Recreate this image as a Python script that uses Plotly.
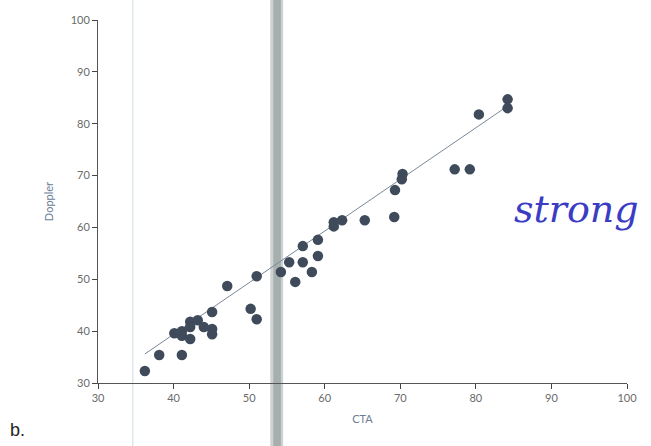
import plotly.graph_objects as go

cta = [36.2, 38.1, 41.1, 40.1, 41.1, 41.1, 42.2, 42.2, 42.2, 43.2, 44.0, 45.1, 45.1, 45.1,
       47.1, 50.2, 51.0, 51.0, 54.2, 55.3, 56.1, 57.1, 57.1, 58.3, 59.1, 59.1, 61.2, 61.2,
       62.3, 65.3, 69.2, 69.3, 70.2, 70.3, 77.2, 79.2, 80.4, 84.2, 84.2]
doppler = [32.3, 35.4, 35.4, 39.6, 40.0, 39.1, 41.8, 40.8, 38.5, 42.1, 40.8, 43.7, 40.4, 39.4,
           48.7, 44.3, 42.3, 50.6, 51.4, 53.3, 49.5, 53.3, 56.4, 51.4, 54.5, 57.6, 61.0, 60.2,
           61.4, 61.4, 62.0, 67.2, 69.3, 70.3, 71.2, 71.2, 81.8, 84.7, 83.0]
fit_cta = [36.2, 84.2]
fit_doppler = [35.6, 83.4]
ticks = [30, 40, 50, 60, 70, 80, 90, 100]

fig = go.Figure()
fig.add_trace(go.Scatter(x=fit_cta, y=fit_doppler, mode="lines",
                         line=dict(color="#7a8796", width=1), showlegend=False, hoverinfo="skip"))
fig.add_trace(go.Scatter(x=cta, y=doppler, mode="markers",
                         marker=dict(size=10.5, color="#3f4b5b", line=dict(width=0)),
                         showlegend=False))

# scan artefacts: faint line and grey band
fig.add_shape(type="rect", xref="x", yref="paper", x0=52.8, x1=54.5, y0=-0.2, y1=1.06,
              fillcolor="rgba(170,180,180,0.6)", line=dict(width=0), layer="below")
fig.add_shape(type="rect", xref="x", yref="paper", x0=53.2, x1=54.2, y0=-0.2, y1=1.06,
              fillcolor="rgba(140,150,150,0.6)", line=dict(width=0), layer="below")
fig.add_shape(type="line", xref="x", yref="paper", x0=34.6, x1=34.6, y0=-0.2, y1=1.06,
              line=dict(color="rgba(200,215,215,0.6)", width=1.5), layer="below")

axis_font = dict(family="Lato, Open Sans, sans-serif", size=11, color="#6a6a6a")
fig.update_xaxes(range=[30, 100], tickvals=ticks, ticks="outside", ticklen=5, tickcolor="#444",
                 showline=True, linecolor="#555", linewidth=1, showgrid=False, zeroline=False,
                 tickfont=axis_font,
                 title=dict(text="CTA", font=dict(family="Lato, sans-serif", size=11, color="#6a7d95"),
                            standoff=12))
fig.update_yaxes(range=[30, 100], tickvals=ticks, ticks="outside", ticklen=5, tickcolor="#444",
                 showline=True, linecolor="#555", linewidth=1, showgrid=False, zeroline=False,
                 tickfont=axis_font,
                 title=dict(text="Doppler", font=dict(family="Lato, sans-serif", size=11, color="#6a7d95"),
                            standoff=14))

fig.add_annotation(text="b.", xref="paper", yref="paper", x=-0.17, y=-0.13, showarrow=False,
                   xanchor="left", yanchor="middle",
                   font=dict(family="Liberation Sans, sans-serif", size=18, color="#222"))
fig.add_annotation(text="<i>strong</i>", xref="paper", yref="paper", x=0.905, y=0.48, showarrow=False,
                   xanchor="center", yanchor="middle",
                   font=dict(family="DejaVu Serif, serif", size=38, color="#3a3cc4"))

fig.update_layout(width=651, height=446, margin=dict(l=98, r=24, t=20, b=63),
                  paper_bgcolor="white", plot_bgcolor="white")
fig.write_html("out.html")
